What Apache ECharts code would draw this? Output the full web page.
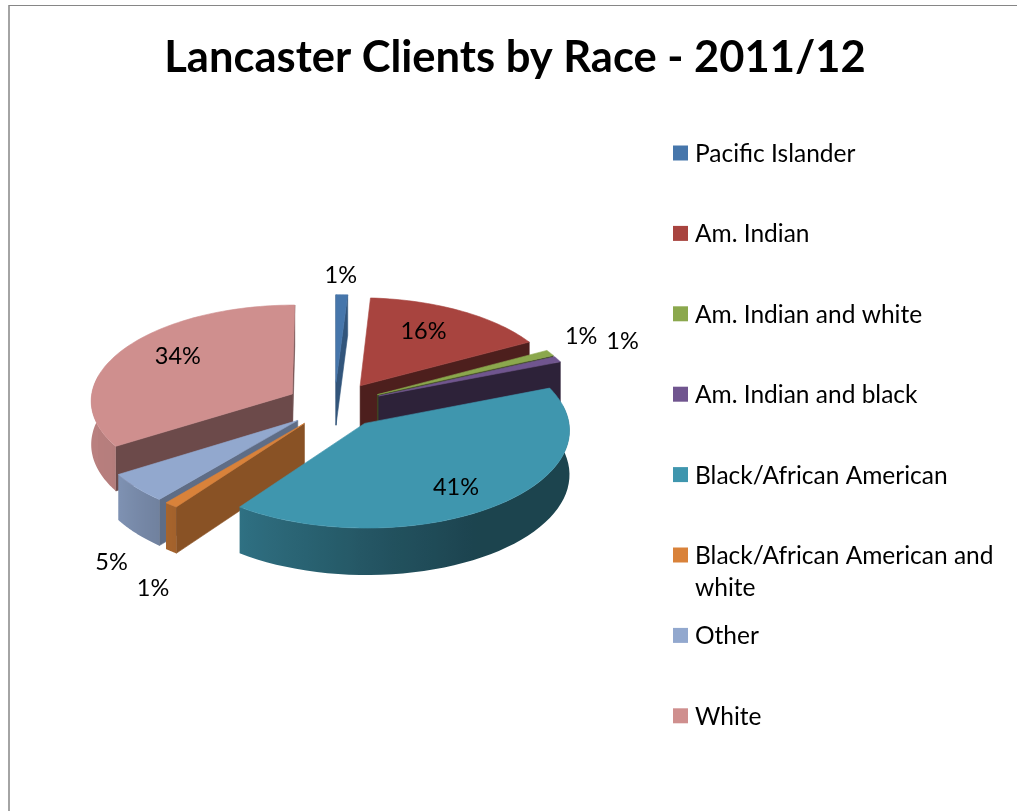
<!DOCTYPE html>
<html>
<head>
<meta charset="utf-8">
<title>Lancaster Clients by Race - 2011/12</title>
<style>
  html, body { margin: 0; padding: 0; background: #fff; }
  #chart { width: 1017px; height: 811px; }
</style>
<script src="https://cdn.jsdelivr.net/npm/echarts@6/dist/echarts.min.js"></script>
</head>
<body>
<div id="chart"></div>
<script>
const chartTitle = 'Lancaster Clients by Race - 2011/12';
const categories = [
  'Pacific Islander',
  'Am. Indian',
  'Am. Indian and white',
  'Am. Indian and black',
  'Black/African American',
  'Black/African American and\nwhite',
  'Other',
  'White'
];
const percentages = [1, 16, 1, 1, 41, 1, 5, 34];

const faceColors = ['#4676AB', '#A8443F', '#8BA84D', '#70558F', '#3F96AE', '#D9823A', '#92A8CE', '#CF8F8E'];
// Brightness of the cut faces of each wedge
const cutShade = [0.72, 0.46, 0.45, 0.4, 0.4, 0.63, 0.65, 0.52];
// Back-to-front paint rank of each wedge
const paintRank = [0, 1, 2, 3, 7, 6, 5, 4];
// Pixel shift of each percentage label from the outer middle of its wedge
const labelShift = [[-1, -19], [-37, 21], [31, -16], [65, -18], [-42, -18], [-18, 83], [-25, 75], [55, 7]];

// Projection of the tilted pie: unit-radius pie plane seen with mild perspective
const view = { cx: 334.5, cy: 405, rx: 202, ry: 95.8, persp: 0.062, depth: 43.5, explode: 0.24 };
// Legend layout
const legendBox = { x: 673, y: 153, step: 80.4, swatch: 15, textX: 695, textDrop: 1, lineHeight: 32 };
const pieFont = { fontFamily: 'Lato, sans-serif', fontSize: 23.5, fill: '#000' };
const legendFont = { fontFamily: 'Lato, sans-serif', fontSize: 24.5, fill: '#000' };

const total = percentages.reduce((a, b) => a + b, 0);
const TAU = Math.PI * 2;

function project(X, Y, lowered) {
  const p = 1 / (1 - view.persp * Y);
  return [
    view.cx + X * view.rx * p,
    view.cy + Y * view.ry * p + (lowered ? view.depth * p : 0)
  ];
}

function shade(hex, f) {
  const n = parseInt(hex.slice(1), 16);
  const c = [n >> 16, (n >> 8) & 255, n & 255].map(v => Math.round(v * f));
  return 'rgb(' + c.join(',') + ')';
}

// Brightness of the curved rim as it turns from the front toward the light on the left
function rimShade(theta) {
  const deg = theta * 180 / Math.PI;
  const knots = [[0, 0.45], [150, 0.45], [175, 0.55], [216, 0.75], [240, 0.88], [360, 0.92]];
  for (let i = 1; i < knots.length; i++) {
    if (deg <= knots[i][0]) {
      const t = (deg - knots[i - 1][0]) / (knots[i][0] - knots[i - 1][0]);
      return knots[i - 1][1] + t * (knots[i][1] - knots[i - 1][1]);
    }
  }
  return 0.92;
}

function poly(points, color, z2) {
  return {
    type: 'polygon',
    z2: z2,
    shape: { points: points },
    style: { fill: color, stroke: color, lineWidth: 0.6 }
  };
}

// A radial cut face shows only when "down" on screen points away from the wedge interior
function cutVisible(a, b, inner) {
  const side = (q) => (b[0] - a[0]) * (q[1] - a[1]) - (b[1] - a[1]) * (q[0] - a[0]);
  const down = b[0] - a[0];
  return Math.abs(down) > 0.01 && down * side(inner) < 0;
}

function renderWedge(params, api) {
  const i = params.dataIndex;
  const value = api.value(0);
  let before = 0;
  for (let k = 0; k < i; k++) before += percentages[k];
  const a0 = before / total * TAU;
  const a1 = (before + value) / total * TAU;
  const mid = (a0 + a1) / 2;
  const ox = view.explode * Math.sin(mid);
  const oy = -view.explode * Math.cos(mid);
  const at = (t, lowered) => project(ox + Math.sin(t), oy - Math.cos(t), lowered);
  const color = faceColors[i];
  const base = paintRank[i] * 10;
  const children = [];

  const apexTop = project(ox, oy, false);
  const apexLow = project(ox, oy, true);
  const inner = at(mid, false);

  [a0, a1].forEach((t) => {
    if (cutVisible(apexTop, at(t, false), inner)) {
      children.push(poly([apexTop, at(t, false), at(t, true), apexLow], shade(color, cutShade[i]), base + 1));
    }
  });

  // Curved rim on the viewer's side, shaded by a gradient that follows the surface
  const r0 = Math.max(a0, TAU * 0.22);
  const r1 = Math.min(a1, TAU * 0.78);
  if (r1 > r0) {
    const n = 48;
    const upper = [];
    const lower = [];
    for (let s = 0; s <= n; s++) {
      const t = r0 + (r1 - r0) * s / n;
      upper.push(at(t, false));
      lower.unshift(at(t, true));
    }
    const xStart = upper[0][0];
    const xEnd = upper[n][0];
    const span = xStart - xEnd;
    const stops = [];
    for (let s = n; s >= 0; s--) {
      const t = r0 + (r1 - r0) * s / n;
      const off = span > 0 ? Math.min(1, Math.max(0, (upper[s][0] - xEnd) / span)) : s / n;
      stops.push({ offset: off, color: shade(color, rimShade(t)) });
    }
    stops.sort((p, q) => p.offset - q.offset);
    const fill = new echarts.graphic.LinearGradient(xEnd, 0, Math.max(xStart, xEnd + 1), 0, stops, true);
    children.push({
      type: 'polygon',
      z2: base + 2,
      shape: { points: upper.concat(lower) },
      style: { fill: fill }
    });
  }

  // Top face
  const top = [apexTop];
  const arcSteps = Math.max(4, Math.ceil((a1 - a0) / (TAU / 240)));
  for (let s = 0; s <= arcSteps; s++) top.push(at(a0 + (a1 - a0) * s / arcSteps, false));
  children.push(poly(top, color, base + 3));

  // Percentage label
  children.push({
    type: 'text',
    z2: 1000,
    style: Object.assign({
      text: Math.round(value / total * 100) + '%',
      x: inner[0] + labelShift[i][0],
      y: inner[1] + labelShift[i][1],
      align: 'center',
      verticalAlign: 'middle'
    }, pieFont)
  });
  return { type: 'group', children: children };
}

function renderLegendEntry(params) {
  const i = params.dataIndex;
  const y = legendBox.y + i * legendBox.step;
  return {
    type: 'group',
    children: [
      {
        type: 'rect',
        shape: { x: legendBox.x, y: y - legendBox.swatch / 2, width: legendBox.swatch, height: legendBox.swatch },
        style: { fill: faceColors[i] }
      },
      {
        type: 'text',
        style: Object.assign({
          text: categories[i],
          x: legendBox.textX,
          y: y - legendBox.lineHeight / 2 + legendBox.textDrop,
          align: 'left',
          verticalAlign: 'top',
          lineHeight: legendBox.lineHeight
        }, legendFont)
      }
    ]
  };
}

const chart = echarts.init(document.getElementById('chart'));
chart.setOption({
  animation: false,
  backgroundColor: '#fff',
  title: {
    text: chartTitle,
    left: 510,
    top: 31,
    textAlign: 'center',
    textStyle: { fontFamily: 'Lato, sans-serif', fontWeight: 'bold', fontSize: 43.5, color: '#000' }
  },
  graphic: [
    { type: 'line', shape: { x1: 9, y1: 5.5, x2: 1017, y2: 5.5 }, style: { stroke: '#868686', lineWidth: 1 } },
    { type: 'line', shape: { x1: 9, y1: 5, x2: 9, y2: 811 }, style: { stroke: '#868686', lineWidth: 1.5 } }
  ],
  series: [
    {
      type: 'custom',
      name: 'Clients by race',
      coordinateSystem: 'none',
      renderItem: renderWedge,
      data: percentages.map((v, i) => ({ name: categories[i], value: [v] }))
    },
    {
      type: 'custom',
      name: 'Legend',
      coordinateSystem: 'none',
      renderItem: renderLegendEntry,
      data: categories.map((name, i) => ({ name: name, value: [i] }))
    }
  ]
});
</script>
</body>
</html>
